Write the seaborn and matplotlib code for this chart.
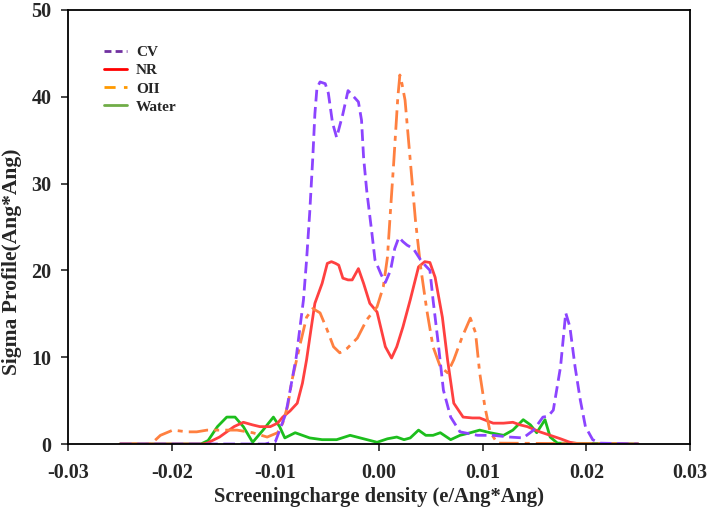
import numpy as np
import pandas as pd
import matplotlib
matplotlib.use('Agg')
import matplotlib.pyplot as plt
import seaborn as sns
from matplotlib.lines import Line2D

# ========== DATA ==========
cv_x = [-0.025, -0.011, -0.010, -0.009, -0.008, -0.0073, -0.0070, -0.0067, -0.0064, -0.0062,
        -0.0060, -0.0057, -0.0052, -0.0049, -0.0045, -0.0041, -0.0035, -0.0030, -0.0023, -0.0020,
        -0.0017, -0.0015, -0.0012, -0.0007, -0.0004, 0.0002, 0.0006, 0.0011, 0.0015, 0.0019,
        0.0023, 0.0027, 0.0033, 0.0040, 0.0045, 0.0049, 0.0052, 0.0057, 0.0062, 0.0069,
        0.0078, 0.0095, 0.0110, 0.0126, 0.0139, 0.0149, 0.0158, 0.0163, 0.0168, 0.0175,
        0.0180, 0.0184, 0.0189, 0.0194, 0.0199, 0.0206, 0.0213, 0.025]
cv_y = [0, 0, 0.3, 3.5, 10, 16.6, 21.2, 26.6, 33, 38,
        41, 41.7, 41.5, 40.4, 37, 35.3, 38, 40.7, 39.8, 39.4,
        37.3, 33, 29.2, 24.3, 21.2, 19.5, 18.6, 20, 22.5, 23.8,
        23.3, 22.9, 22.5, 21.2, 20.5, 20, 16.6, 11.6, 6.2, 3.1,
        1.4, 1.0, 1.0, 0.8, 0.7, 1.6, 3.1, 3.2, 3.9, 8.9,
        15.1, 13.5, 8.9, 5.1, 2.0, 0.5, 0.1, 0]

nr_x = [-0.025, -0.017, -0.0166, -0.0154, -0.0140, -0.0131, -0.0122, -0.0115, -0.0105, -0.0098,
        -0.0093, -0.0086, -0.0079, -0.0074, -0.0070, -0.0066, -0.0062, -0.0055, -0.0050, -0.0046,
        -0.0042, -0.0039, -0.0035, -0.0030, -0.0026, -0.0020, -0.0015, -0.0009, -0.0002, 0.0006,
        0.0012, 0.0017, 0.0023, 0.0030, 0.0038, 0.0044, 0.0049, 0.0054, 0.0061, 0.0066,
        0.0072, 0.0081, 0.0090, 0.0097, 0.0110, 0.0120, 0.0129, 0.0136, 0.0143, 0.0155,
        0.0165, 0.0175, 0.0184, 0.0194, 0.025]
nr_y = [0, 0, 0.1, 0.8, 2.0, 2.5, 2.2, 2.0, 2.0, 2.4,
        3.1, 3.8, 4.7, 7, 9.7, 13, 16.2, 18.5, 20.8, 21,
        20.8, 20.6, 19.1, 18.9, 18.9, 20.2, 18.5, 16.2, 15.2, 11.2,
        9.9, 11.2, 13.5, 16.6, 20.4, 21, 20.9, 19.2, 14.6, 9.7,
        4.7, 3.1, 3.0, 3.0, 2.4, 2.4, 2.5, 2.2, 2.0, 1.4,
        1.0, 0.6, 0.2, 0, 0]

oii_x = [-0.025, -0.0220, -0.0211, -0.0199, -0.0185, -0.0176, -0.0166, -0.0154, -0.0137, -0.0122,
         -0.0108, -0.0098, -0.0093, -0.0088, -0.0084, -0.0080, -0.0076, -0.0070, -0.0064, -0.0057,
         -0.0050, -0.0044, -0.0038, -0.0031, -0.0021, -0.0012, -0.0002, 0.0004, 0.0008, 0.0011,
         0.0014, 0.0018, 0.0020, 0.0022, 0.0025, 0.0030, 0.0035, 0.0040, 0.0046, 0.0052,
         0.0059, 0.0066, 0.0072, 0.0080, 0.0088, 0.0093, 0.0097, 0.0102, 0.0107, 0.0114, 0.025]
oii_y = [0, 0, 1.0, 1.6, 1.4, 1.4, 1.6, 1.6, 1.6, 1.3,
         0.8, 1.3, 2.4, 4.5, 7.4, 9.5, 11.6, 14.6, 15.6, 15.1,
         13.1, 11.2, 10.5, 11.0, 12.2, 14.3, 15.8, 18.1, 21.5, 27,
         32.3, 39.9, 42.5, 41.5, 39.6, 32.7, 25.8, 20.4, 15.4, 11.2,
         8.9, 8.2, 9.7, 12.3, 14.5, 12.8, 8.2, 4.3, 1.4, 0.1, 0]

water_x = [-0.025, -0.0172, -0.0165, -0.0156, -0.0147, -0.0139, -0.0131, -0.0122, -0.0112, -0.0102,
           -0.0096, -0.0091, -0.0081, -0.0067, -0.0055, -0.0041, -0.0028, -0.0015, -0.0002, 0.0008,
           0.0017, 0.0024, 0.0030, 0.0038, 0.0045, 0.0052, 0.0059, 0.0069, 0.0078, 0.0088,
           0.0097, 0.0107, 0.0120, 0.0129, 0.0139, 0.0146, 0.0152, 0.0160, 0.0165, 0.0172, 0.025]
water_y = [0, 0, 0.4, 2.0, 3.1, 3.1, 2.0, 0.2, 1.6, 3.1,
           2.0, 0.7, 1.3, 0.7, 0.5, 0.5, 1.0, 0.6, 0.2, 0.6,
           0.8, 0.5, 0.7, 1.6, 1.0, 1.0, 1.3, 0.5, 1.0, 1.3,
           1.6, 1.3, 1.0, 1.6, 2.8, 2.2, 1.3, 2.8, 0.8, 0.1, 0]

x_ticks = [-0.03, -0.02, -0.01, 0.00, 0.01, 0.02, 0.03]
y_ticks = [0, 10, 20, 30, 40, 50]

# ========== POSTAVKE ==========
sns.set_style("ticks")
plt.rcParams['font.family'] = ['Liberation Serif', 'DejaVu Serif']
plt.rcParams['font.weight'] = 'bold'

fig = plt.figure(figsize=(7.1, 5.19), dpi=100)
ax = fig.add_axes([0.096, 0.1445, 0.876, 0.8365])

lw = 2.0
sns.lineplot(x=water_x, y=water_y, ax=ax, color='#1DBE1D', linewidth=lw)
sns.lineplot(x=nr_x, y=nr_y, ax=ax, color='#FF4040', linewidth=lw)
sns.lineplot(x=oii_x, y=oii_y, ax=ax, color='#FF8040', linewidth=lw,
             linestyle=(0, (7, 2.2, 1.8, 2.2)))
sns.lineplot(x=cv_x, y=cv_y, ax=ax, color='#8C44FF', linewidth=lw,
             linestyle=(0, (4.2, 2.0)))

ax.set_xlim(-0.03, 0.03)
ax.set_ylim(0, 50)
ax.set_xticks(x_ticks)
ax.set_xticklabels([f'{t:.2f}' for t in x_ticks])
ax.set_yticks(y_ticks)
ax.tick_params(axis='both', direction='out', length=5, width=1.2, labelsize=14.5, pad=9)
ax.tick_params(axis='y', pad=7)
for s in ax.spines.values():
    s.set_linewidth(1.3)
    s.set_color('black')

ax.set_xlabel('Screeningcharge density (e/Ang*Ang)', fontsize=14.8, fontweight='bold')
ax.xaxis.set_label_coords(0.5, -0.098)
ax.set_ylabel('Sigma Profile(Ang*Ang)', fontsize=15.5, fontweight='bold')
ax.yaxis.set_label_coords(-0.075, 0.42)

# legend (colors as drawn in the original legend)
handles = [
    Line2D([], [], color='#7030A0', lw=2, linestyle=(0, (2.5, 1.5))),
    Line2D([], [], color='#FF0000', lw=2),
    Line2D([], [], color='#FF9900', lw=2, linestyle=(0, (4, 3, 1.5, 3))),
    Line2D([], [], color='#70AD47', lw=2),
]
ax.legend(handles, ['CV', 'NR', 'OII', 'Water'], loc='upper left', bbox_to_anchor=(0.035, 0.95),
          frameon=False, prop={'size': 11, 'weight': 'bold'}, handlelength=1.5,
          labelspacing=0.3, handletextpad=0.6)

plt.savefig('out.png', dpi=100)
plt.close()
